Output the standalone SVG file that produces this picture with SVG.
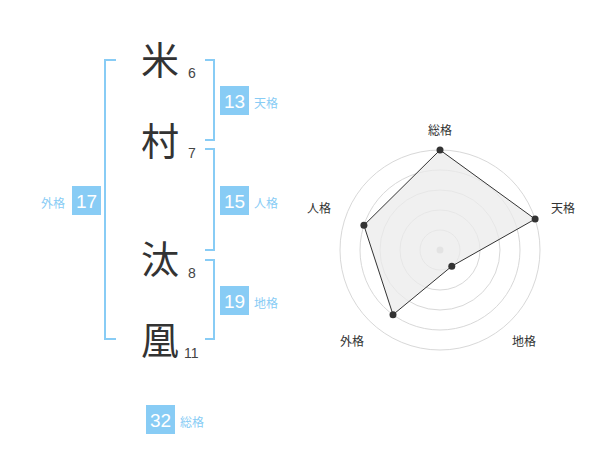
<svg xmlns="http://www.w3.org/2000/svg" width="600" height="470" viewBox="0 0 600 470">
<style>
.ch{font-family:"Noto Sans CJK JP","Noto Sans CJK SC",sans-serif;font-size:38px;fill:#333;text-anchor:middle}
.n{font-family:"Liberation Sans",Arial,sans-serif;font-size:14px;fill:#444}
.br{fill:none;stroke:#88ccf5;stroke-width:2}
.bx{fill:#88ccf5}
.bt{font-family:"Liberation Sans",Arial,sans-serif;font-size:19px;fill:#fff;text-anchor:middle}
.bl{font-family:"Noto Sans CJK JP","Noto Sans CJK SC",sans-serif;font-size:12px;fill:#88ccf5}
.rl{font-family:"Noto Sans CJK JP","Noto Sans CJK SC",sans-serif;font-size:12px;fill:#333;text-anchor:middle}
.ring{fill:none;stroke:#d8d8d8;stroke-width:1}
.pt{fill:#333}
</style>
<rect width="600" height="470" fill="#fff"/>
<g id="chars">
<text class="ch" x="160" y="74">米</text>
<text class="ch" x="160" y="155">村</text>
<text class="ch" x="160" y="273">汰</text>
<text class="ch" x="160" y="354">凰</text>
<text class="n" x="188" y="78">6</text>
<text class="n" x="188" y="158">7</text>
<text class="n" x="188" y="278">8</text>
<text class="n" x="184" y="358">11</text>
</g>
<g id="connectors">
<path class="br" d="M116,60 H105 V339 H116"/>
<path class="br" d="M205,60 H214 V140 H205"/>
<path class="br" d="M205,149 H214 V250 H205"/>
<path class="br" d="M205,260 H214 V339 H205"/>
</g>
<g id="tenkaku">
<rect class="bx" x="220" y="86" width="29" height="29"/>
<text class="bt" x="234.5" y="107.5">13</text>
<text class="bl" x="254" y="108">天格</text>
</g>
<g id="jinkaku">
<rect class="bx" x="220" y="186" width="29" height="29"/>
<text class="bt" x="234.5" y="207.5">15</text>
<text class="bl" x="254" y="208">人格</text>
</g>
<g id="chikaku">
<rect class="bx" x="220" y="286" width="29" height="29"/>
<text class="bt" x="234.5" y="307.5">19</text>
<text class="bl" x="254" y="308">地格</text>
</g>
<g id="gaikaku">
<rect class="bx" x="72" y="186" width="29" height="29"/>
<text class="bt" x="86.5" y="207.5">17</text>
<text class="bl" x="41" y="208">外格</text>
</g>
<g id="soukaku">
<rect class="bx" x="146" y="405" width="29" height="29"/>
<text class="bt" x="160.5" y="426.5">32</text>
<text class="bl" x="180" y="427">総格</text>
</g>
<g id="radar">
<circle class="ring" cx="440" cy="250" r="20"/>
<circle class="ring" cx="440" cy="250" r="40"/>
<circle class="ring" cx="440" cy="250" r="60"/>
<circle class="ring" cx="440" cy="250" r="80"/>
<circle class="ring" cx="440" cy="250" r="100"/>
<circle cx="440" cy="250" r="3.5" fill="#ccc"/>
<polygon points="440,150 535.1,219.1 451.8,266.2 393,314.7 363.9,225.3" fill="#ebebeb" fill-opacity="0.75" stroke="#333" stroke-width="1"/>
<circle class="pt" cx="440" cy="150" r="3.5"/>
<circle class="pt" cx="535.1" cy="219.1" r="3.5"/>
<circle class="pt" cx="451.8" cy="266.2" r="3.5"/>
<circle class="pt" cx="393" cy="314.7" r="3.5"/>
<circle class="pt" cx="363.9" cy="225.3" r="3.5"/>
<text class="rl" x="440" y="135">総格</text>
<text class="rl" x="563" y="213">天格</text>
<text class="rl" x="524" y="346">地格</text>
<text class="rl" x="352" y="346">外格</text>
<text class="rl" x="319" y="213">人格</text>
</g>
</svg>
